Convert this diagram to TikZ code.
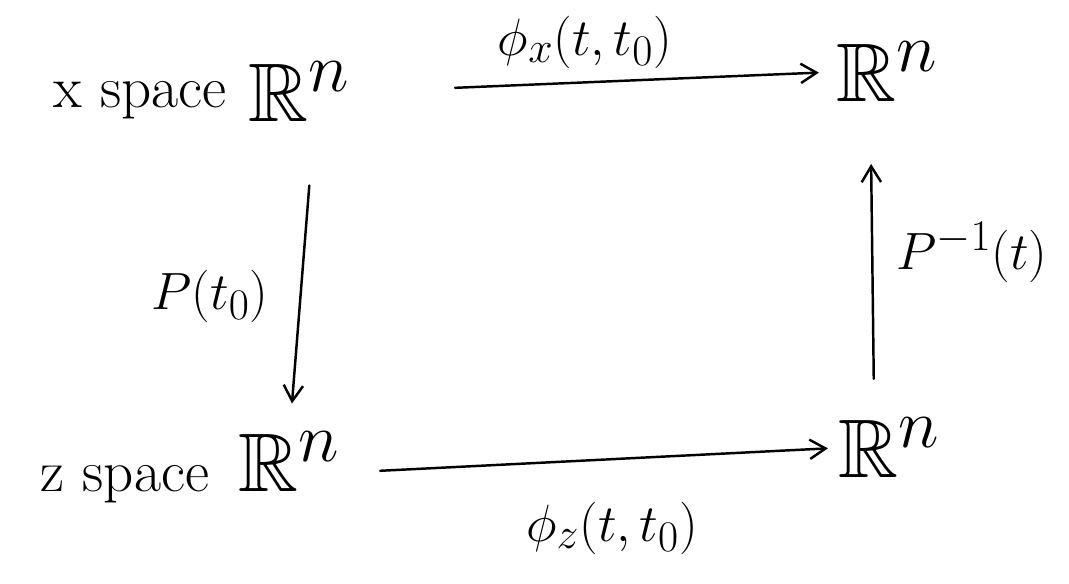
\documentclass[tikz,border=0pt]{standalone}
\usepackage{amsmath,amssymb}
\usepackage{tikz}
\usetikzlibrary{arrows.meta}

\begin{document}
\begin{tikzpicture}[x=0.02cm,y=-0.02cm,>={Straight Barb[length=9pt,width=11pt]},
    line cap=round,line join=round,font=\Huge,
    space/.style={scale=1.35},
    euclid/.style={scale=1.9,inner sep=1pt},
    maplabel/.style={scale=1.2},
    mapping/.style={->,line width=1.4pt}]
    \useasboundingbox (0,0) rectangle (1069,583);

    % The two coordinate spaces and the four copies of R^n.
    \node[space] (xsp) at (140,100) {x space};
    \node[space] (zsp) at (125,484) {z space};
    \node[euclid] (xa) at (300,92) {$\mathbb{R}^n$};
    \node[euclid] (xb) at (888,72) {$\mathbb{R}^n$};
    \node[euclid] (za) at (290,462) {$\mathbb{R}^n$};
    \node[euclid] (zb) at (890,448) {$\mathbb{R}^n$};

    % The transition maps and the change of coordinates.
    \draw[mapping,shorten <=57pt,shorten >=8pt] (xa.east) -- (xb.west);
    \draw[mapping,shorten <=20pt,shorten >=4pt] ([yshift=-6pt]za.east) -- (zb.west);
    \draw[mapping,shorten <=34pt,shorten >=14pt] ([xshift=8pt]xa.south) -- (za.north);
    \draw[mapping,shorten <=20pt,shorten >=33pt] ([xshift=-9pt]zb.north) -- ([xshift=-10pt]xb.south);

    % Labels of the four maps.
    \node[maplabel] (phix) at (585,42) {$\phi_x(t,t_0)$};
    \node[maplabel] (phiz) at (612,528) {$\phi_z(t,t_0)$};
    \node[maplabel] (pt) at (210,296) {$P(t_0)$};
    \node[maplabel] (pinv) at (972,252) {$P^{-1}(t)$};
  \end{tikzpicture}
\end{document}
